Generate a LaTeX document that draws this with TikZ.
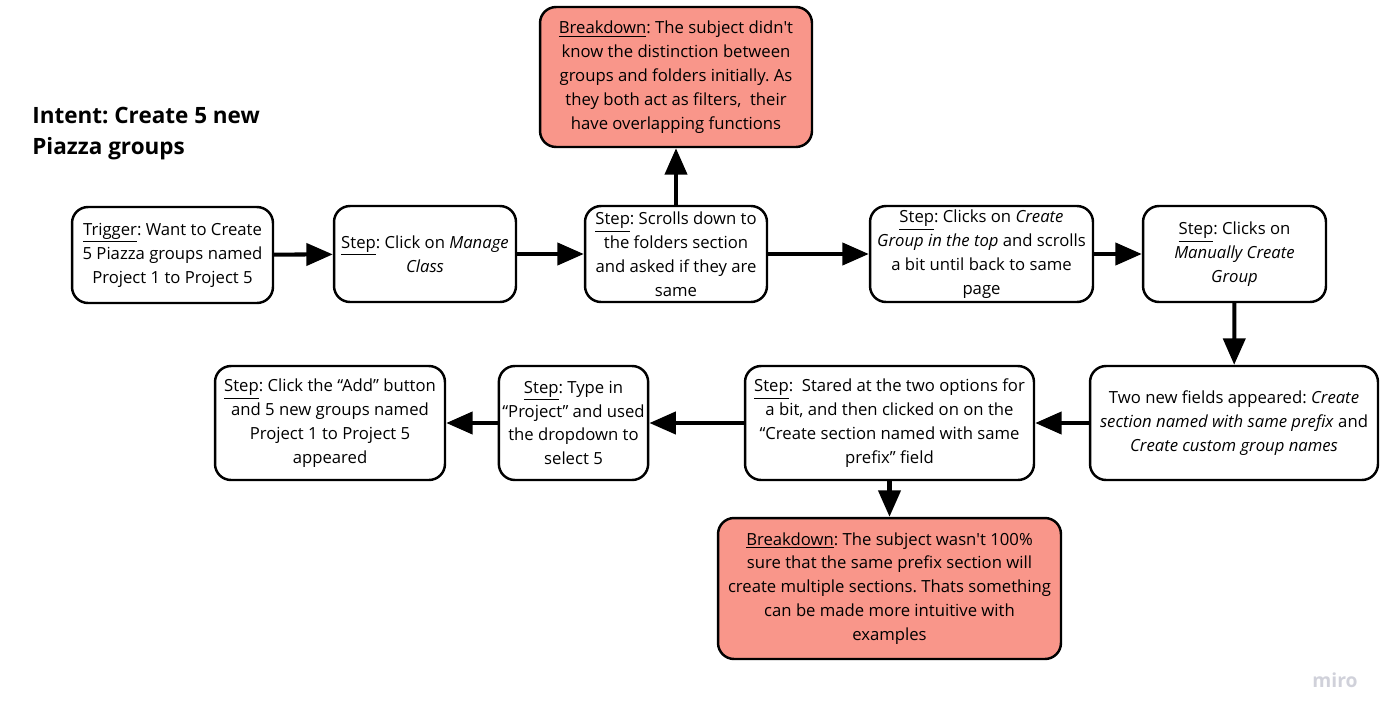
\documentclass[tikz,border=0pt]{standalone}
\usepackage{fontspec}
\setmainfont{Open Sans}
\usepackage{xcolor}
\usepackage{tikz}
\usetikzlibrary{arrows.meta}
\definecolor{breakred}{HTML}{F9968A}
\definecolor{mirogray}{HTML}{D0D1DA}
\tikzstyle{arrow} = [-{Triangle[length=15pt,width=12.5pt]}, line width=2.3pt]
\tikzstyle{stepbox} = [draw, line width=1.4pt, rounded corners=0.32cm, fill=white, align=center, inner sep=2pt, font=\fontsize{9.5}{13.6}\selectfont]
\tikzstyle{breakbox} = [stepbox, fill=breakred]
\frenchspacing

\begin{document}
\begin{tikzpicture}[x=0.02cm, y=-0.02cm]
		\useasboundingbox (0,0) rectangle (1388,720);
		\node (intent) [anchor=west, align=left, inner sep=0pt, font=\fontsize{12.8}{17.6}\selectfont\bfseries] at (32,134) {Intent: Create 5 new\\Piazza groups};
		
		\node (trigger) [stepbox, minimum width=4.02cm, minimum height=1.92cm] at (172.5,255) {\underline{Trigger}: Want to Create\\5 Piazza groups named\\Project 1 to Project 5};
		\node (manage) [stepbox, minimum width=3.64cm, minimum height=1.92cm] at (425,254) {\underline{Step}: Click on \textit{Manage}\\\textit{Class}};
		\node (scroll) [stepbox, minimum width=3.64cm, minimum height=1.92cm] at (676,254) {\underline{Step}: Scrolls down to\\the folders section\\and asked if they are\\same};
		\node (break1) [breakbox, minimum width=5.44cm, minimum height=2.8cm] at (676,77) {\underline{Breakdown}: The subject didn\textquotesingle t\\know the distinction between\\groups and folders initially. As\\they both act as filters,\ \ their\\have overlapping functions};
		\node (create) [stepbox, minimum width=4.46cm, minimum height=1.92cm] at (981.5,254) {\underline{Step}: Clicks on \textit{Create}\\\textit{Group in the top} and scrolls\\a bit until back to same\\page};
		\node (manual) [stepbox, minimum width=3.66cm, minimum height=1.92cm] at (1234.5,254) {\underline{Step}: Clicks on\\\textit{Manually Create}\\\textit{Group}};
		
		\draw [arrow] (trigger) -- (manage);
		\draw [arrow] (manage) -- (scroll);
		\draw [arrow] (scroll) -- (break1);
		\draw [arrow] (scroll) -- (create);
		\draw [arrow] (create) -- (manual);
		
		\node (fields) [stepbox, minimum width=5.76cm, minimum height=2.28cm] at (1234,423) {Two new fields appeared: \textit{Create}\\\textit{section named with same prefix} and\\\textit{Create custom group names}};
		\node (stared) [stepbox, minimum width=5.78cm, minimum height=2.28cm] at (889.5,423) {\underline{Step}:\ \ Stared at the two options for\\a bit, and then clicked on on the\\``Create section named with same\\prefix'' field};
		\node (type) [stepbox, minimum width=2.94cm, minimum height=2.28cm] at (573.5,423) {\underline{Step}: Type in\\``Project'' and used\\the dropdown to\\select 5};
		\node (add) [stepbox, minimum width=4.6cm, minimum height=2.28cm] at (330,423) {\underline{Step}: Click the ``Add'' button\\and 5 new groups named\\Project 1 to Project 5\\appeared};
		\node (break2) [breakbox, minimum width=6.86cm, minimum height=2.82cm] at (889.5,588.5) {\underline{Breakdown}: The subject wasn\textquotesingle t 100\%\\sure that the same prefix section will\\create multiple sections. Thats something\\can be made more intuitive with\\examples};
		
		\draw [arrow] (manual) -- (fields);
		\draw [arrow] (fields) -- (stared);
		\draw [arrow] (stared) -- (type);
		\draw [arrow] (type) -- (add);
		\draw [arrow] (stared) -- (break2);
		
		\node (miro) [text=mirogray, font=\fontsize{11}{13}\selectfont\bfseries] at (1335,680) {miro};
	\end{tikzpicture}
\end{document}
